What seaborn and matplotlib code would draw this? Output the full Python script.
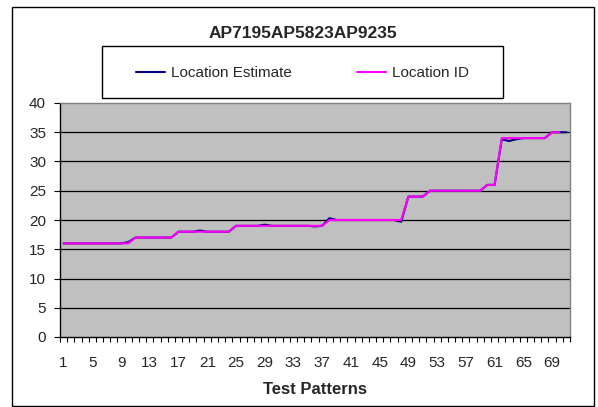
import numpy as np
import pandas as pd
import matplotlib
matplotlib.use("Agg")
import matplotlib.pyplot as plt
import seaborn as sns
from matplotlib.patches import Rectangle

# ---------------------------------------------------------------- data
patterns = list(range(1, 72))

location_estimate = (
    [16] * 9 + [16.2] + [17] * 6 + [18] * 3 + [18.2] + [18] * 4
    + [19] * 4 + [19.2] + [19] * 6 + [18.9] + [19] + [20.3] + [20] * 9 + [19.7]
    + [24] * 3 + [25] * 8 + [26] * 2 + [33.8, 33.5, 33.8] + [34] * 4 + [35] * 3
)

location_id = (
    [16] * 10 + [17] * 6 + [18] * 8 + [19] * 13 + [20] * 11
    + [24] * 3 + [25] * 8 + [26] * 2 + [34] * 7 + [35] * 2 + [np.nan]
)

series_names = ["Location Estimate", "Location ID"]
series_colors = ["#000080", "#FF00FF"]
title = "AP7195AP5823AP9235"
x_label = "Test Patterns"
x_tick_labels = list(range(1, 70, 4))
y_ticks = list(range(0, 41, 5))

df = pd.DataFrame({
    "pattern": patterns * 2,
    "value": location_estimate + location_id,
    "series": [series_names[0]] * 71 + [series_names[1]] * 71,
})

# ---------------------------------------------------------------- plot
sns.set_style("white")
plt.rcParams["font.family"] = ["Liberation Sans", "DejaVu Sans"]

fig = plt.figure(figsize=(5.98, 4.07), dpi=100)
ax = fig.add_axes([60 / 598, 1 - 337 / 407, 510 / 598, 234 / 407])

sns.lineplot(data=df, x="pattern", y="value", hue="series",
             palette=series_colors, linewidth=1.5, ax=ax, legend=False)

ax.set_facecolor("#C0C0C0")
ax.set_xlim(0.5, 71.5)
ax.set_ylim(0, 40)

# gridlines
for y in y_ticks[1:-1]:
    ax.axhline(y, color="black", linewidth=0.9, zorder=1)

ax.set_yticks(y_ticks)
ax.set_yticklabels([str(v) for v in y_ticks], fontsize=11)
ax.tick_params(axis="y", direction="out", length=4, width=0.8, color="black", pad=6, left=True)

ax.set_xticks(x_tick_labels)
ax.set_xticklabels([str(v) for v in x_tick_labels], fontsize=11)
ax.set_xticks(np.arange(0.5, 72, 1), minor=True)
ax.tick_params(axis="x", which="major", length=0, pad=14)
ax.tick_params(axis="x", which="minor", direction="out", length=3.5, width=0.8,
               color="black", bottom=True)

ax.set_xlabel(x_label, fontsize=12, fontweight="bold", labelpad=8)
ax.set_ylabel("")

for side in ["top", "right"]:
    ax.spines[side].set_color("#808080")
    ax.spines[side].set_linewidth(1)
for side in ["left", "bottom"]:
    ax.spines[side].set_color("black")
    ax.spines[side].set_linewidth(1)

# legend box, entries centred inside it
box = Rectangle((102 / 598, 1 - 98 / 407), 401 / 598, 52 / 407,
                transform=fig.transFigure, facecolor="white",
                edgecolor="black", linewidth=1)
fig.patches.append(box)
handles = [plt.Line2D([], [], color=c, linewidth=1.5) for c in series_colors]
leg = fig.legend(handles, series_names, loc="center", ncol=2,
                 bbox_to_anchor=(302.5 / 598, 1 - 73 / 407),
                 fontsize=11, frameon=False, borderaxespad=0,
                 handlelength=1.9, handletextpad=0.35, columnspacing=4.3)

fig.text(303 / 598, 1 - 33 / 407, title, ha="center", va="center",
         fontsize=12.5, fontweight="bold")

# outer chart border
fig.patches.append(Rectangle((12 / 598, 1 / 407), 582 / 598, 399 / 407,
                             transform=fig.transFigure, fill=False,
                             edgecolor="black", linewidth=1))

fig.savefig("out.png", dpi=100)
